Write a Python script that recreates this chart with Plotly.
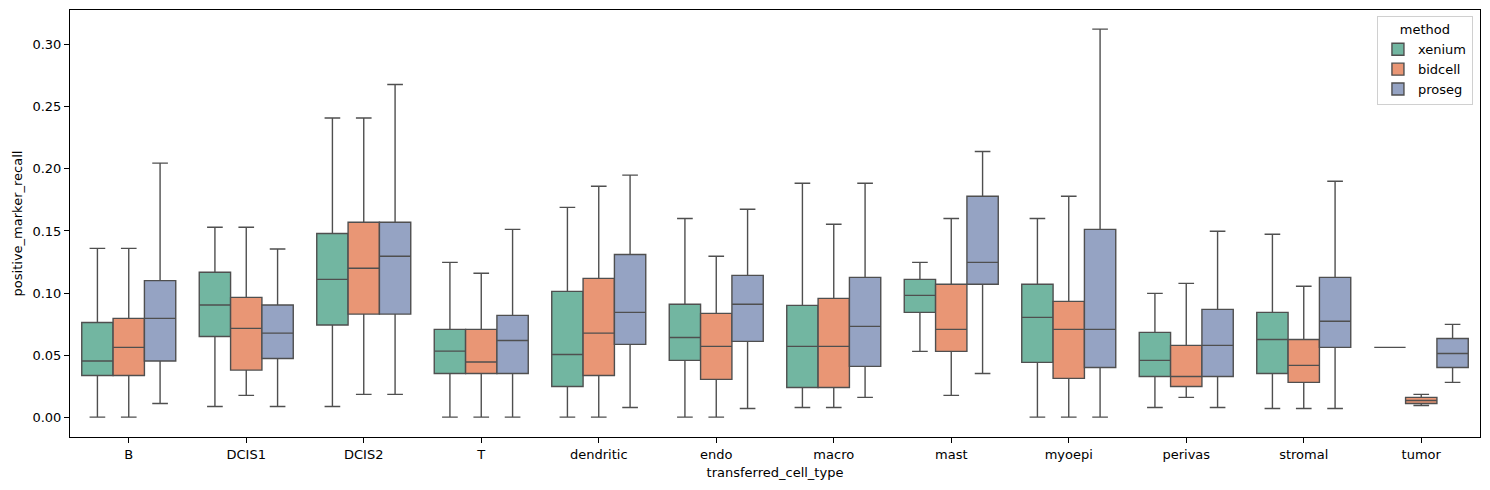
import plotly.graph_objects as go

cell_types = ["B", "DCIS1", "DCIS2", "T", "dendritic", "endo", "macro", "mast",
              "myoepi", "perivas", "stromal", "tumor"]
methods = ["xenium", "bidcell", "proseg"]

# per-method box stats, one value per cell type
xenium_low = [0.0, 0.0086, 0.0086, 0.0, 0.0, 0.0, 0.0078, 0.053, 0.0, 0.0078, 0.007, 0.0562]
xenium_q1 = [0.0336, 0.065, 0.0742, 0.0352, 0.0247, 0.0457, 0.0239, 0.0844, 0.0441, 0.0328, 0.0352, 0.0562]
xenium_med = [0.0452, 0.0903, 0.111, 0.0532, 0.0505, 0.0642, 0.057, 0.0981, 0.0804, 0.0457, 0.0626, 0.0562]
xenium_q3 = [0.0763, 0.1167, 0.148, 0.0707, 0.1013, 0.0909, 0.090, 0.111, 0.107, 0.0683, 0.0844, 0.0562]
xenium_high = [0.136, 0.153, 0.241, 0.1247, 0.169, 0.160, 0.1884, 0.1247, 0.160, 0.0997, 0.1473, 0.0562]

bidcell_low = [0.0, 0.0175, 0.0183, 0.0, 0.0, 0.0, 0.0078, 0.0175, 0.0, 0.0159, 0.007, 0.0094]
bidcell_q1 = [0.0336, 0.0379, 0.083, 0.0352, 0.0336, 0.0304, 0.0239, 0.053, 0.0312, 0.0247, 0.028, 0.011]
bidcell_med = [0.0562, 0.0715, 0.120, 0.0444, 0.0677, 0.057, 0.057, 0.0707, 0.0707, 0.0328, 0.0417, 0.0134]
bidcell_q3 = [0.0796, 0.0965, 0.157, 0.0707, 0.1118, 0.0836, 0.0957, 0.107, 0.0933, 0.0578, 0.0626, 0.0159]
bidcell_high = [0.136, 0.153, 0.241, 0.1159, 0.186, 0.1296, 0.1554, 0.160, 0.178, 0.1078, 0.1054, 0.0183]

proseg_low = [0.011, 0.0086, 0.0183, 0.0, 0.0078, 0.007, 0.0159, 0.0352, 0.0, 0.0078, 0.007, 0.028]
proseg_q1 = [0.0452, 0.0473, 0.083, 0.0352, 0.0586, 0.061, 0.0409, 0.107, 0.040, 0.0328, 0.0562, 0.040]
proseg_med = [0.0796, 0.0677, 0.1296, 0.0618, 0.0844, 0.0909, 0.0731, 0.1247, 0.0707, 0.0578, 0.0772, 0.0513]
proseg_q3 = [0.110, 0.0903, 0.157, 0.082, 0.131, 0.1142, 0.1126, 0.178, 0.1513, 0.0868, 0.1126, 0.0634]
proseg_high = [0.2046, 0.1355, 0.268, 0.1513, 0.195, 0.1675, 0.1884, 0.214, 0.3126, 0.1497, 0.190, 0.0747]

stats = {
    "xenium": (xenium_low, xenium_q1, xenium_med, xenium_q3, xenium_high),
    "bidcell": (bidcell_low, bidcell_q1, bidcell_med, bidcell_q3, bidcell_high),
    "proseg": (proseg_low, proseg_q1, proseg_med, proseg_q3, proseg_high),
}
colors = {"xenium": "#72b6a1", "bidcell": "#e99675", "proseg": "#95a3c3"}

fig = go.Figure()
for m in methods:
    lo, q1, med, q3, hi = stats[m]
    fig.add_trace(go.Box(
        x=cell_types, q1=q1, median=med, q3=q3, lowerfence=lo, upperfence=hi,
        name=m, fillcolor=colors[m], boxpoints=False, whiskerwidth=0.5,
        line=dict(color="#4f4f4f", width=1.4),
    ))

# page body has an 8px margin, so the figure is shrunk/shifted to compensate
fig.update_layout(
    width=1482, height=482,
    margin=dict(l=62, r=10, t=2, b=53),
    plot_bgcolor="white", paper_bgcolor="white",
    font=dict(family="DejaVu Sans", size=13, color="black"),
    boxmode="group", boxgap=0.2, boxgroupgap=0,
    legend=dict(
        title=dict(text="method", side="top center", font=dict(size=13)),
        font=dict(size=13),
        x=0.995, xanchor="right", y=0.985, yanchor="top",
        bordercolor="#d0d0d0", borderwidth=1, bgcolor="rgba(255,255,255,0.8)",
    ),
)
fig.update_xaxes(
    title=dict(text="transferred_cell_type", standoff=7, font=dict(size=13)),
    tickfont=dict(size=13),
    showline=True, linecolor="black", mirror=True, ticks="outside",
    ticklen=5, tickcolor="black", showgrid=False, range=[-0.5, 11.5],
)
fig.update_yaxes(
    title=dict(text="positive_marker_recall", standoff=6, font=dict(size=13)),
    tickfont=dict(size=13),
    showline=True, linecolor="black", mirror=True, ticks="outside",
    ticklen=5, tickcolor="black", showgrid=False, zeroline=False,
    range=[-0.016, 0.328], tickvals=[0, 0.05, 0.1, 0.15, 0.2, 0.25, 0.3],
    tickformat=".2f",
)

fig.write_html("out.html")
